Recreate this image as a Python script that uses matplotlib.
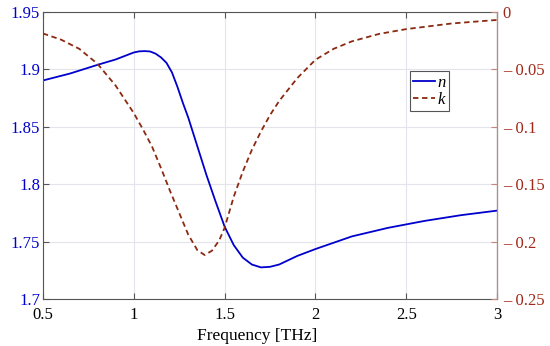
import matplotlib
matplotlib.use('Agg')
import matplotlib.pyplot as plt
from matplotlib.ticker import FuncFormatter

# refractive index n (left axis)
n_freq = [0.5, 0.65, 0.8, 0.9, 1.0, 1.03, 1.06, 1.09, 1.12, 1.15, 1.18, 1.21, 1.24,
          1.27, 1.3, 1.35, 1.4, 1.45, 1.5, 1.55, 1.6, 1.65, 1.7, 1.75, 1.8, 1.9,
          2.0, 2.2, 2.4, 2.6, 2.8, 3.0]
n_vals = [1.8904, 1.8965, 1.904, 1.9087, 1.9148, 1.9158, 1.916, 1.9157, 1.9138,
          1.9105, 1.9058, 1.8975, 1.885, 1.871, 1.858, 1.833, 1.808, 1.785, 1.763,
          1.747, 1.736, 1.730, 1.7275, 1.728, 1.730, 1.7375, 1.7435, 1.7545, 1.762,
          1.768, 1.773, 1.777]

# extinction k (right axis)
k_freq = [0.5, 0.6, 0.7, 0.8, 0.9, 1.0, 1.05, 1.1, 1.15, 1.2, 1.25, 1.3, 1.35, 1.39,
          1.43, 1.47, 1.5, 1.55, 1.6, 1.65, 1.7, 1.75, 1.8, 1.9, 2.0, 2.1, 2.2, 2.35,
          2.5, 2.75, 3.0]
k_vals = [-0.0186, -0.024, -0.032, -0.045, -0.064, -0.088, -0.102, -0.117, -0.136,
          -0.156, -0.175, -0.194, -0.2075, -0.2117, -0.208, -0.199, -0.188, -0.161,
          -0.139, -0.120, -0.104, -0.0897, -0.0775, -0.0575, -0.0415, -0.032,
          -0.0255, -0.019, -0.0148, -0.0099, -0.0068]

x_ticks = [0.5, 1, 1.5, 2, 2.5, 3]
n_ticks = [1.7, 1.75, 1.8, 1.85, 1.9, 1.95]
k_ticks = [-0.25, -0.2, -0.15, -0.1, -0.05, 0]

blue = '#0000cc'
red = '#a02818'
kline = '#8b2a10'

plt.rcParams['font.family'] = ['Liberation Serif', 'DejaVu Serif']
plt.rcParams['font.size'] = 12

fig = plt.figure(figsize=(5.5, 3.46), dpi=100)
ax = fig.add_axes([0.078, 0.136, 0.826, 0.829])
ax2 = ax.twinx()

l1, = ax.plot(n_freq, n_vals, color=blue, lw=1.3)
l2, = ax2.plot(k_freq, k_vals, color=kline, lw=1.3, ls=(0, (3, 2)))

ax.set_xlim(0.5, 3)
ax.set_ylim(1.7, 1.95)
ax2.set_ylim(-0.25, 0)
ax.set_xticks(x_ticks)
ax.set_xticklabels(['0.5', '1', '1.5', '2', '2.5', '3'])
ax.set_yticks(n_ticks)
ax.set_yticklabels(['1.7', '1.75', '1.8', '1.85', '1.9', '1.95'])
ax2.set_yticks(k_ticks)
ax2.yaxis.set_major_formatter(FuncFormatter(
    lambda v, p: '0' if abs(v) < 1e-9 else '\u2013 %g' % abs(v)))

ax.grid(True, color='#e4e4ec', lw=0.8)
ax.set_axisbelow(True)
ax.tick_params(axis='both', direction='in', length=4, colors='#555555', top=True)
ax.tick_params(axis='x', labelcolor='black', pad=6)
ax.tick_params(axis='y', labelcolor=blue, pad=2)
ax2.tick_params(axis='y', direction='in', length=4, colors='#c08878', labelcolor=red, pad=4)
for s in ['left', 'bottom', 'top']:
    ax.spines[s].set_color('#555555')
ax2.spines['right'].set_color('#c08878')
ax2.spines['left'].set_visible(False)
ax2.spines['top'].set_visible(False)
ax2.spines['bottom'].set_visible(False)
ax.set_xlabel('Frequency [THz]', fontsize=12.5)
ax.xaxis.set_label_coords(0.471, -0.1)

leg = ax.legend([l1, l2], ['n', 'k'], loc='upper left', bbox_to_anchor=(0.808, 0.793),
                borderaxespad=0, handlelength=1.3, handletextpad=0.15, borderpad=0.2,
                labelspacing=0.05, fancybox=False, edgecolor='#555555', framealpha=1,
                prop={'size': 12, 'style': 'italic'})
leg.get_frame().set_linewidth(0.8)

fig.savefig('out.png', dpi=100)
